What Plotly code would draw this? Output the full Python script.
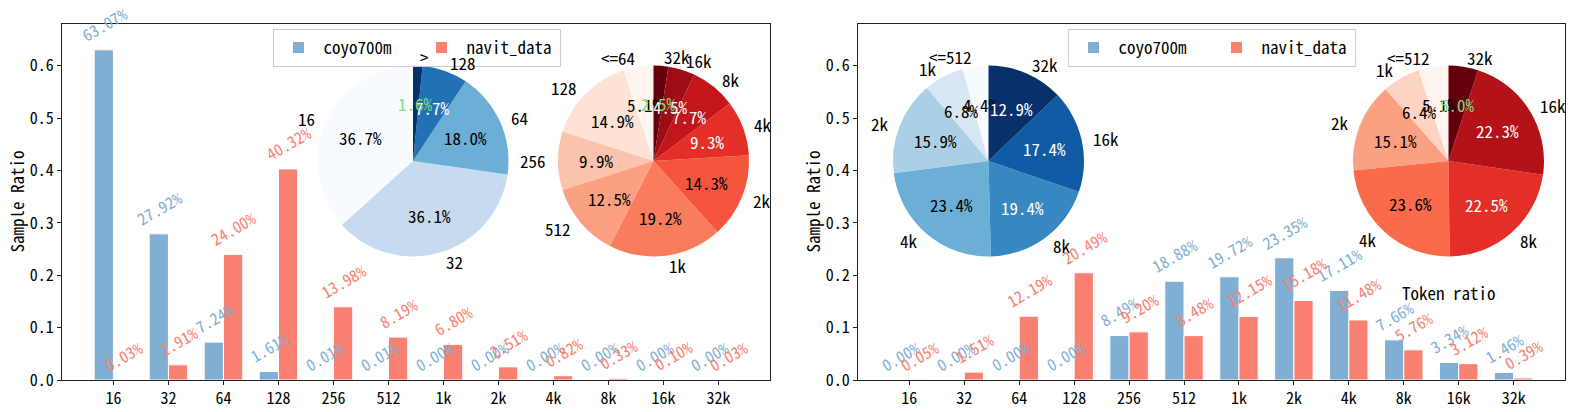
import math
import plotly.graph_objects as go

W, H = 1577, 412

# x categories shared by both bar panels
size_bins = ["16", "32", "64", "128", "256", "512", "1k", "2k", "4k", "8k", "16k", "32k"]

# sample ratio in percent, left panel
left_coyo = [63.07, 27.92, 7.24, 1.61, 0.01, 0.01, 0.00, 0.00, 0.00, 0.00, 0.00, 0.00]
left_navit = [0.03, 2.91, 24.00, 40.32, 13.98, 8.19, 6.80, 2.51, 0.82, 0.33, 0.10, 0.03]

# sample ratio in percent, right panel
right_coyo = [0.00, 0.00, 0.00, 0.00, 8.49, 18.88, 19.72, 23.35, 17.11, 7.66, 3.34, 1.46]
right_navit = [0.05, 1.51, 12.19, 20.49, 9.20, 8.48, 12.15, 15.18, 11.48, 5.76, 3.12, 0.39]

# token ratio pies (percent)
left_coyo_pie_labels = ["16", "32", "64", "128", ">"]
left_coyo_pie_values = [36.7, 36.1, 18.0, 7.7, 1.6]
left_navit_pie_labels = ["<=64", "128", "256", "512", "1k", "2k", "4k", "8k", "16k", "32k"]
left_navit_pie_values = [5.1, 14.9, 9.9, 12.5, 19.2, 14.3, 9.3, 7.7, 4.5, 2.5]
right_pie_labels = ["<=512", "1k", "2k", "4k", "8k", "16k", "32k"]
right_coyo_pie_values = [4.4, 6.8, 15.9, 23.4, 19.4, 17.4, 12.9]
right_navit_pie_values = [5.1, 6.4, 15.1, 23.6, 22.5, 22.3, 5.0]

COYO = "#80AFD3"
NAVIT = "#FA8072"
GREEN = "#7EDC7E"
FONT = "Noto Sans Mono CJK SC, Noto Sans CJK SC, DejaVu Sans Mono, sans-serif"
FS = 17      # pie labels, legend, titles
FS_SMALL = 16  # tick labels and bar value labels

blues5 = ["#F7FBFF", "#C6DBEF", "#6BAED6", "#2171B5", "#08306B"]
blues7 = ["#F7FBFF", "#D6E6F4", "#ABD0E6", "#6BAED6", "#3787C0", "#105BA4", "#08306B"]
reds10 = ["#FFF5F0", "#FEE2D5", "#FCC3AC", "#FCA082", "#FB7C5C",
          "#F6553D", "#E32F27", "#C3161B", "#9E0D14", "#67000D"]
reds7 = ["#FFF5F0", "#FDD4C2", "#FCA082", "#FB6A4A", "#E32F27", "#B21218", "#67000D"]


def px(x):
    return x / W


def py(y):
    return 1 - y / H


fig = go.Figure()
annotations = []


def add_bars(coyo, navit, xa, ya, legend):
    idx = list(range(len(size_bins)))
    for vals, color, name, off in ((coyo, COYO, "coyo700m", -0.35), (navit, NAVIT, "navit_data", 0.0)):
        fig.add_trace(go.Bar(
            x=idx, y=[v / 100 for v in vals], width=0.35, offset=off, name=name,
            marker=dict(color=color, line=dict(color="white", width=1)),
            xaxis=xa, yaxis=ya, legend=legend,
        ))
        for i, v in enumerate(vals):
            annotations.append(dict(
                x=i + off + 0.175, y=v / 100, xref=xa, yref=ya.replace("axis", ""),
                text=f"{v:.2f}%", showarrow=False, textangle=-30,
                xanchor="center", yanchor="bottom", yshift=1,
                font=dict(color=color, size=FS_SMALL, family=FONT),
            ))


def add_pie(labels, values, colors, textcolors, cx, cy, r):
    total = sum(values)
    # plotly puts the first counterclockwise slice right of 12 o'clock; shift it to start there
    fig.add_trace(go.Pie(
        labels=labels, values=values, sort=False, direction="counterclockwise",
        rotation=-values[0] / total * 360, marker=dict(colors=colors, line=dict(width=0)),
        textinfo="none", showlegend=False,
        domain=dict(x=[px(cx - r), px(cx + r)], y=[py(cy + r), py(cy - r)]),
    ))
    cum = 0.0
    for lab, v, tc in zip(labels, values, textcolors):
        ang = math.radians(90 + (cum + v / 2) / total * 360)
        cum += v
        c, s = math.cos(ang), math.sin(ang)
        annotations.append(dict(
            x=px(cx + 1.1 * r * c), y=py(cy - 1.1 * r * s), xref="paper", yref="paper",
            text=lab, showarrow=False, xanchor="right" if c < 0 else "left", yanchor="middle",
            font=dict(color="black", size=FS, family=FONT),
        ))
        annotations.append(dict(
            x=px(cx + 0.6 * r * c), y=py(cy - 0.6 * r * s), xref="paper", yref="paper",
            text=f"{v:.1f}%", showarrow=False, xanchor="center", yanchor="middle",
            font=dict(color=tc, size=FS, family=FONT),
        ))


add_bars(left_coyo, left_navit, "x", "y", "legend")
add_bars(right_coyo, right_navit, "x2", "y2", "legend2")

R = 95.5
add_pie(left_coyo_pie_labels, left_coyo_pie_values, blues5,
        ["black", "black", "black", "white", GREEN], 413, 161, R)
add_pie(left_navit_pie_labels, left_navit_pie_values, reds10,
        ["black"] * 6 + ["white"] * 3 + [GREEN], 653.5, 161, R)
add_pie(right_pie_labels, right_coyo_pie_values, blues7,
        ["black"] * 4 + ["white"] * 3, 988.5, 161, R)
add_pie(right_pie_labels, right_navit_pie_values, reds7,
        ["black"] * 4 + ["white"] * 2 + [GREEN], 1448.5, 161, R)

for xc in (15.5, 811.5):
    annotations.append(dict(x=px(xc), y=py(202), xref="paper", yref="paper", text="Sample Ratio",
                            textangle=-90, showarrow=False, xanchor="center", yanchor="middle",
                            font=dict(color="black", size=FS, family=FONT)))
annotations.append(dict(x=px(1400), y=py(292), xref="paper", yref="paper", text="Token ratio",
                        showarrow=False, xanchor="left", yanchor="middle",
                        font=dict(color="black", size=FS, family=FONT)))

axis_common = dict(showline=True, linecolor="#222", linewidth=1, mirror=True, ticks="outside",
                   ticklen=4, tickcolor="#222", showgrid=False, zeroline=False, automargin=False,
                   tickfont=dict(size=FS_SMALL, color="black", family=FONT))
xcommon = dict(axis_common, range=[-0.935, 11.935], tickvals=list(range(12)), ticktext=size_bins)
ycommon = dict(axis_common, range=[0, 0.68], tick0=0, dtick=0.1, tickformat=".1f")

legend_common = dict(orientation="h", xanchor="center", yanchor="top", y=py(29),
                     bgcolor="rgba(255,255,255,0.8)", bordercolor="#cccccc", borderwidth=1,
                     font=dict(size=FS, color="black", family=FONT), entrywidth=88,
                     itemwidth=40)

fig.update_layout(
    width=W, height=H, margin=dict(l=0, r=0, t=0, b=0),
    paper_bgcolor="white", plot_bgcolor="white", barmode="overlay",
    font=dict(family=FONT, size=FS, color="black"),
    xaxis=dict(xcommon, domain=[px(62), px(770)], anchor="y"),
    yaxis=dict(ycommon, domain=[py(380), py(24)], anchor="x"),
    xaxis2=dict(xcommon, domain=[px(858), px(1565)], anchor="y2"),
    yaxis2=dict(ycommon, domain=[py(380), py(24)], anchor="x2"),
    legend=dict(legend_common, x=px(416.5)),
    legend2=dict(legend_common, x=px(1211.5)),
    annotations=annotations,
)

# drop the browser's default body margin so the 1577x412 figure fills the window exactly
fig.write_html("out.html", post_script="document.body.style.margin='0';",
               config={"displayModeBar": False})
